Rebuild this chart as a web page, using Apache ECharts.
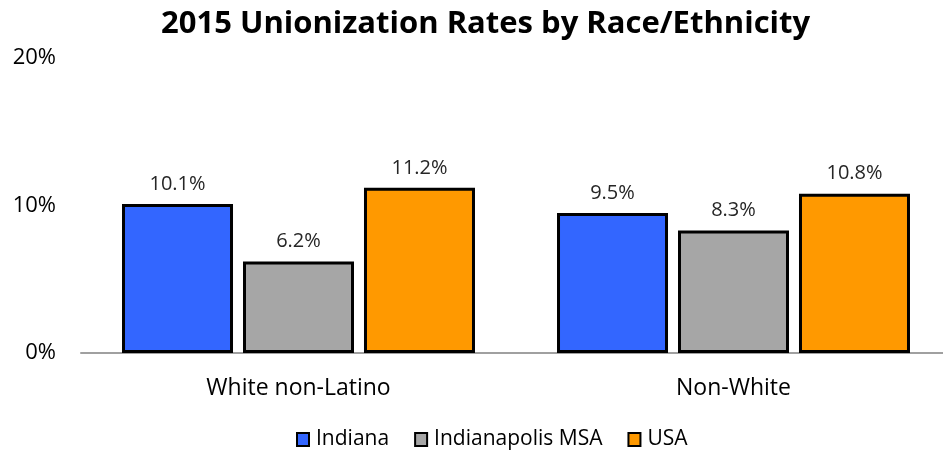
<!DOCTYPE html>
<html>
<head>
<meta charset="utf-8">
<script src="https://cdn.jsdelivr.net/npm/echarts@6/dist/echarts.min.js"></script>
<style>
  html, body { margin: 0; padding: 0; background: #fff; }
  #main { width: 943px; height: 458px; }
</style>
</head>
<body>
<div id="main"></div>
<script>
// 数据
const categories = ['White non-Latino', 'Non-White']
const indiana = [10.1, 9.5]
const indyMsa = [6.2, 8.3]
const usa = [11.2, 10.8]
const yTicks = [0, 10, 20]

const font = 'Open Sans'

// 系列样式
function makeSeries(name, data, color) {
    return {
        name: name,
        type: 'bar',
        data: data,
        barWidth: 111,
        barGap: '9%',
        itemStyle: { color: color, borderColor: '#000', borderWidth: 3 },
        label: {
            show: true,
            position: 'top',
            distance: 10,
            fontFamily: font,
            fontSize: 20,
            color: '#262626',
            formatter: p => p.value.toFixed(1) + '%'
        }
    }
}

let chart = echarts.init(document.getElementById('main'))

chart.setOption({
    animation: false,
    title: {
        text: '2015 Unionization Rates by Race/Ethnicity',
        left: 156,
        top: 4,
        textStyle: { fontFamily: font, fontWeight: 'bold', fontSize: 31, color: '#000' }
    },
    legend: {
        bottom: 3,
        left: 291,
        itemWidth: 12,
        itemHeight: 13,
        itemGap: 25,
        icon: 'rect',
        textStyle: { fontFamily: font, fontSize: 21, color: '#000', padding: [0, 0, 0, 2] },
        data: ['Indiana', 'Indianapolis MSA', 'USA']
    },
    // 不让 ECharts 6 自动收缩网格
    grid: { left: 81, width: 870, top: 58, bottom: 105, outerBoundsMode: 'none' },
    xAxis: {
        type: 'category',
        data: categories,
        axisLine: { lineStyle: { color: '#a0a0a0', width: 2 } },
        axisTick: { show: false },
        axisLabel: { fontFamily: font, fontSize: 23, color: '#000', margin: 24 }
    },
    yAxis: {
        type: 'value',
        min: yTicks[0],
        max: yTicks[yTicks.length - 1],
        interval: 10,
        splitLine: { show: false },
        axisLine: { show: false },
        axisLabel: { fontFamily: font, fontSize: 22, color: '#000', margin: 25, formatter: '{value}%' }
    },
    series: [
        makeSeries('Indiana', indiana, '#3366ff'),
        makeSeries('Indianapolis MSA', indyMsa, '#a6a6a6'),
        makeSeries('USA', usa, '#ff9900')
    ]
})
</script>
</body>
</html>
